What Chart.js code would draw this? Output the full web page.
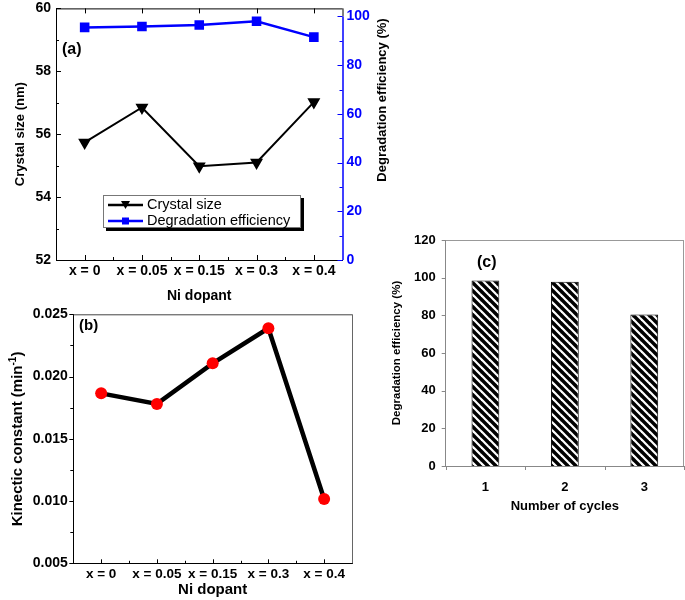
<!DOCTYPE html>
<html>
<head>
<meta charset="utf-8">
<script src="https://cdn.jsdelivr.net/npm/chart.js@4.4.0/dist/chart.umd.min.js"></script>
<style>
  body { margin: 0; background: #fff; }
  #wrap { position: relative; width: 685px; height: 600px; overflow: hidden; }
  canvas { position: absolute; }
  #chartA { left: 0; top: -5px; }
  #chartB { left: 0; top: 300px; }
  #chartC { left: 385px; top: 215px; }
</style>
</head>
<body>
<div id="wrap">
  <canvas id="chartA" width="400" height="310"></canvas>
  <canvas id="chartB" width="380" height="300"></canvas>
  <canvas id="chartC" width="300" height="305"></canvas>
</div>
<script>
// data
const dopants = ['x = 0', 'x = 0.05', 'x = 0.15', 'x = 0.3', 'x = 0.4'];
const crystalSize = [55.74, 56.85, 54.98, 55.1, 57.02];
const degradEff = [95.5, 95.9, 96.5, 98.0, 91.5];
const kinetic = [0.01865, 0.0178, 0.02106, 0.02388, 0.01017];
const cycles = ['1', '2', '3'];
const cycleEff = [98.5, 97.8, 80.4];

const FONT = '"Liberation Sans", Arial, sans-serif';
Chart.defaults.font.family = FONT;
Chart.defaults.color = '#000';
Chart.defaults.animation = false;

const bold = (size) => ({ size: size, weight: 'bold', family: FONT });
const noGrid = { display: false, drawTicks: false };

// small tick marks drawn against the library scales
function tickMarks(chart, id, side, values, len, dir, color) {
  const s = chart.scales[id], a = chart.chartArea, ctx = chart.ctx;
  ctx.save();
  ctx.strokeStyle = color;
  ctx.lineWidth = 1;
  ctx.beginPath();
  values.forEach(v => {
    const p = Math.round(s.getPixelForValue(v)) + 0.5;
    if (side === 'left') { ctx.moveTo(a.left, p); ctx.lineTo(a.left + dir * len, p); }
    if (side === 'right') { ctx.moveTo(a.right, p); ctx.lineTo(a.right - dir * len, p); }
    if (side === 'bottom') { ctx.moveTo(p, a.bottom); ctx.lineTo(p, a.bottom - dir * len); }
    if (side === 'top') { ctx.moveTo(p, a.top); ctx.lineTo(p, a.top + dir * len); }
  });
  ctx.stroke();
  ctx.restore();
}

function frameLine(ctx, x1, y1, x2, y2, color) {
  ctx.save();
  ctx.strokeStyle = color;
  ctx.lineWidth = 1;
  ctx.beginPath();
  ctx.moveTo(x1, y1);
  ctx.lineTo(x2, y2);
  ctx.stroke();
  ctx.restore();
}

const centers = [0, 1, 2, 3, 4];
const bounds = [0.5, 1.5, 2.5, 3.5];

// canvas A sits 5px above the page top
const OFF = 5;

// (a) crystal size + degradation efficiency
new Chart(document.getElementById('chartA'), {
  type: 'line',
  data: {
    labels: dopants,
    datasets: [
      {
        label: 'Crystal size', data: crystalSize, yAxisID: 'y',
        borderColor: '#000', backgroundColor: '#000', borderWidth: 2,
        pointStyle: 'triangle', rotation: 180, pointRadius: 5.5, tension: 0
      },
      {
        label: 'Degradation efficiency', data: degradEff, yAxisID: 'y1',
        borderColor: '#0000ff', backgroundColor: '#0000ff', borderWidth: 2.5,
        pointStyle: 'rect', pointRadius: 5, tension: 0
      }
    ]
  },
  options: {
    responsive: false,
    devicePixelRatio: 1,
    layout: { padding: { top: 2, left: 0, right: 0, bottom: 0 } },
    plugins: { legend: { display: false }, tooltip: { enabled: false } },
    scales: {
      x: {
        offset: true,
        grid: noGrid,
        border: { color: '#000' },
        ticks: { autoSkip: false, maxRotation: 0, padding: 3, font: bold(14) },
        title: { display: true, text: 'Ni dopant', font: bold(14), padding: { top: 0, bottom: 0 } },
        afterFit: s => { s.height = 45; }
      },
      y: {
        min: 52, max: 60,
        grid: noGrid,
        border: { color: '#000' },
        ticks: { stepSize: 2, padding: 5, font: bold(14) },
        title: { display: true, text: 'Crystal size (nm)', font: bold(13), padding: { top: 13 } },
        afterFit: s => { s.width = 56; }
      },
      y1: {
        position: 'right',
        min: 0, max: 103.3,
        grid: noGrid,
        border: { display: false },
        afterBuildTicks: s => { s.ticks = [0, 20, 40, 60, 80, 100].map(v => ({ value: v })); },
        ticks: { color: '#0000ff', padding: 4, font: bold(14) },
        afterFit: s => { s.width = 57.5; }
      }
    }
  },
  plugins: [{
    id: 'decorA',
    afterDraw(chart) {
      const ctx = chart.ctx, a = chart.chartArea;
      const y1 = chart.scales.y1;
      const top100 = y1.getPixelForValue(100);
      frameLine(ctx, a.left, a.top + 0.5, a.right, a.top + 0.5, '#000');
      frameLine(ctx, a.right + 0.5, a.top, a.right + 0.5, top100, '#000');
      ctx.save();
      ctx.strokeStyle = '#0000ff';
      ctx.lineWidth = 1.5;
      ctx.beginPath();
      ctx.moveTo(a.right + 0.5, top100);
      ctx.lineTo(a.right + 0.5, y1.getPixelForValue(0));
      ctx.stroke();
      ctx.restore();

      tickMarks(chart, 'y', 'left', [52, 54, 56, 58, 60], 5, 1, '#000');
      tickMarks(chart, 'y', 'left', [53, 55, 57, 59], 3, 1, '#000');
      tickMarks(chart, 'x', 'bottom', centers, 5, 1, '#000');
      tickMarks(chart, 'x', 'bottom', bounds, 3, 1, '#000');
      tickMarks(chart, 'x', 'top', centers, 5, 1, '#000');
      tickMarks(chart, 'y1', 'right', [0, 20, 40, 60, 80, 100], 5, 1, '#0000ff');
      tickMarks(chart, 'y1', 'right', [10, 30, 50, 70, 90], 3, 1, '#0000ff');

      // right axis title, reads bottom to top
      ctx.save();
      ctx.translate(382, 100 + OFF);
      ctx.rotate(-Math.PI / 2);
      ctx.font = 'bold 13px ' + FONT;
      ctx.fillStyle = '#000';
      ctx.textAlign = 'center';
      ctx.textBaseline = 'middle';
      ctx.fillText('Degradation efficiency (%)', 0, 0);
      ctx.restore();

      // panel letter
      ctx.save();
      ctx.font = 'bold 16px ' + FONT;
      ctx.fillStyle = '#000';
      ctx.textBaseline = 'middle';
      ctx.fillText('(a)', 62, 50 + OFF);
      ctx.restore();

      // legend box with shadow
      ctx.save();
      ctx.translate(0, OFF);
      ctx.fillStyle = '#000';
      ctx.fillRect(106, 198, 198, 33);
      ctx.fillStyle = '#fff';
      ctx.fillRect(103, 195, 198, 33);
      ctx.strokeStyle = '#777';
      ctx.lineWidth = 1;
      ctx.strokeRect(103.5, 195.5, 197, 32);
      const rows = [
        { y: 205, color: '#000', text: 'Crystal size', tri: true },
        { y: 221, color: '#0000ff', text: 'Degradation efficiency', tri: false }
      ];
      rows.forEach(r => {
        ctx.strokeStyle = r.color;
        ctx.lineWidth = 2.5;
        ctx.beginPath();
        ctx.moveTo(108, r.y);
        ctx.lineTo(143, r.y);
        ctx.stroke();
        ctx.fillStyle = r.color;
        ctx.beginPath();
        if (r.tri) {
          ctx.moveTo(121, r.y - 4);
          ctx.lineTo(130, r.y - 4);
          ctx.lineTo(125.5, r.y + 4);
        } else {
          ctx.rect(122, r.y - 3.5, 7, 7);
        }
        ctx.fill();
        ctx.fillStyle = '#000';
        ctx.font = '14.5px ' + FONT;
        ctx.textBaseline = 'middle';
        ctx.fillText(r.text, 147, r.y);
      });
      ctx.restore();
    }
  }]
});

// (b) kinetic constant
new Chart(document.getElementById('chartB'), {
  type: 'line',
  data: {
    labels: dopants,
    datasets: [{
      label: 'Kinetic constant', data: kinetic,
      borderColor: '#000', borderWidth: 4.5, tension: 0,
      pointBackgroundColor: '#ff0000', pointBorderColor: '#ff0000',
      pointBorderWidth: 0, pointRadius: 6
    }]
  },
  options: {
    responsive: false,
    devicePixelRatio: 1,
    layout: { padding: { top: 14.3, left: 0, right: 28, bottom: 0 } },
    plugins: { legend: { display: false }, tooltip: { enabled: false } },
    scales: {
      x: {
        offset: true,
        grid: noGrid,
        border: { color: '#000' },
        ticks: { autoSkip: false, maxRotation: 0, padding: 3, font: bold(13.5) },
        title: { display: true, text: 'Ni dopant', font: bold(15), padding: { top: 0, bottom: 1 } },
        afterFit: s => { s.height = 36.7; }
      },
      y: {
        min: 0.005, max: 0.025,
        grid: noGrid,
        border: { color: '#000' },
        ticks: { stepSize: 0.005, padding: 5.5, font: bold(14), callback: v => v.toFixed(3) },
        afterFit: s => { s.width = 73.3; }
      }
    }
  },
  plugins: [{
    id: 'decorB',
    afterDraw(chart) {
      const ctx = chart.ctx, a = chart.chartArea;
      frameLine(ctx, a.left, a.top + 0.5, a.right, a.top + 0.5, '#444');
      frameLine(ctx, a.right + 0.5, a.top, a.right + 0.5, a.bottom, '#666');
      tickMarks(chart, 'y', 'left', [0.005, 0.01, 0.015, 0.02, 0.025], 4, -1, '#000');
      tickMarks(chart, 'y', 'left', [0.0075, 0.0125, 0.0175, 0.0225], 3, -1, '#000');
      tickMarks(chart, 'x', 'bottom', centers, 4, 1, '#000');
      tickMarks(chart, 'x', 'bottom', bounds, 2.5, 1, '#000');

      // y title with superscript
      ctx.save();
      ctx.translate(18, 139);
      ctx.rotate(-Math.PI / 2);
      ctx.fillStyle = '#000';
      ctx.textBaseline = 'middle';
      const main = 'Kinectic constant (min';
      ctx.font = 'bold 15px ' + FONT;
      const w1 = ctx.measureText(main).width;
      const w3 = ctx.measureText(')').width;
      ctx.font = 'bold 10px ' + FONT;
      const w2 = ctx.measureText('-1').width;
      let x = -(w1 + w2 + w3) / 2;
      ctx.font = 'bold 15px ' + FONT;
      ctx.fillText(main, x, 0);
      x += w1;
      ctx.font = 'bold 10px ' + FONT;
      ctx.fillText('-1', x, -5);
      x += w2;
      ctx.font = 'bold 15px ' + FONT;
      ctx.fillText(')', x, 0);
      ctx.restore();

      ctx.save();
      ctx.font = 'bold 15px ' + FONT;
      ctx.fillStyle = '#000';
      ctx.textBaseline = 'middle';
      ctx.fillText('(b)', 79, 26);
      ctx.restore();
    }
  }]
});

// (c) recycling test, hatched bars
function hatchPattern(ctx) {
  const n = 8;
  const c = document.createElement('canvas');
  c.width = n;
  c.height = n;
  const g = c.getContext('2d');
  g.fillStyle = '#000';
  g.fillRect(0, 0, n, n);
  g.strokeStyle = '#fff';
  g.lineWidth = 2.2;
  [-n, 0, n].forEach(k => {
    g.beginPath();
    g.moveTo(-1, -1 + k);
    g.lineTo(n + 1, n + 1 + k);
    g.stroke();
  });
  return ctx.createPattern(c, 'repeat');
}

const canvasC = document.getElementById('chartC');
new Chart(canvasC, {
  type: 'bar',
  data: {
    labels: cycles,
    datasets: [{
      label: 'Degradation efficiency', data: cycleEff,
      backgroundColor: hatchPattern(canvasC.getContext('2d')),
      borderColor: '#000', borderWidth: 1,
      barPercentage: 0.35, categoryPercentage: 1
    }]
  },
  options: {
    responsive: false,
    devicePixelRatio: 1,
    layout: { padding: { top: 25, left: 0, right: 1, bottom: 0 } },
    plugins: { legend: { display: false }, tooltip: { enabled: false } },
    scales: {
      x: {
        grid: noGrid,
        border: { color: '#888' },
        ticks: { padding: 13.5, font: bold(13) },
        title: { display: true, text: 'Number of cycles', font: bold(13), padding: { top: 0, bottom: 6 } },
        afterFit: s => { s.height = 54; }
      },
      y: {
        min: 0, max: 120,
        grid: noGrid,
        border: { color: '#888' },
        ticks: { stepSize: 20, padding: 10, font: bold(13) },
        title: { display: true, text: 'Degradation efficiency (%)', font: bold(11.5), padding: { top: 5 } },
        afterFit: s => { s.width = 60.7; }
      }
    }
  },
  plugins: [{
    id: 'decorC',
    afterDraw(chart) {
      const ctx = chart.ctx, a = chart.chartArea;
      frameLine(ctx, a.left, a.top + 0.5, a.right, a.top + 0.5, '#999');
      frameLine(ctx, a.right - 0.5, a.top, a.right - 0.5, a.bottom, '#999');
      tickMarks(chart, 'y', 'left', [0, 20, 40, 60, 80, 100, 120], 4, -1, '#888');
      tickMarks(chart, 'x', 'bottom', [-0.5, 0.5, 1.5, 2.5], 4, -1, '#888');
      ctx.save();
      ctx.font = 'bold 16px ' + FONT;
      ctx.fillStyle = '#000';
      ctx.textBaseline = 'middle';
      ctx.fillText('(c)', 92, 48);
      ctx.restore();
    }
  }]
});
</script>
</body>
</html>
